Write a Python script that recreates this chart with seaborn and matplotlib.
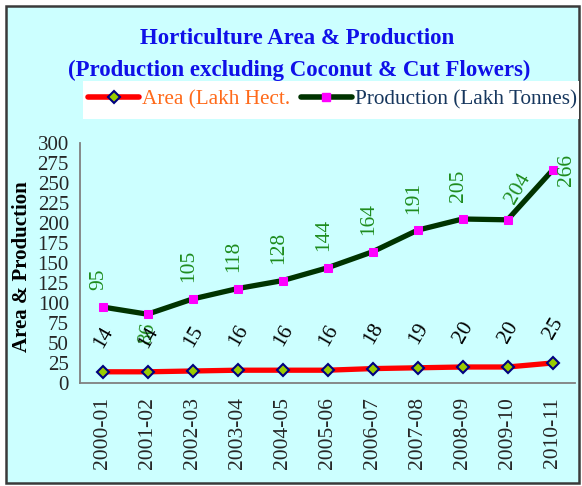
import numpy as np
import pandas as pd
import matplotlib.pyplot as plt
import matplotlib.patches as mpatches
from matplotlib.lines import Line2D
import seaborn as sns

# data
years = ["2000-01", "2001-02", "2002-03", "2003-04", "2004-05", "2005-06",
         "2006-07", "2007-08", "2008-09", "2009-10", "2010-11"]
area = [14, 14, 15, 16, 16, 16, 18, 19, 20, 20, 25]
production = [95, 86, 105, 118, 128, 144, 164, 191, 205, 204, 266]

sns.set_style("white")
plt.rcParams['font.family'] = ['Liberation Serif', 'DejaVu Serif']

bg = "#CCFFFF"
W, H = 582, 486
fig = plt.figure(figsize=(W / 100, H / 100), dpi=100)
fig.patch.set_facecolor("white")

# outer chart frame and the white legend strip
fig.patches.append(mpatches.Rectangle((6 / W, 3 / H), 573 / W, 477 / H, transform=fig.transFigure,
                                      facecolor=bg, edgecolor="#3a3a3a", lw=1.8, zorder=-2))
fig.patches.append(mpatches.Rectangle((83 / W, 1 - 119 / H), 496 / W, 38 / H, transform=fig.transFigure,
                                      facecolor="white", edgecolor="none", zorder=-1))

ax = fig.add_axes([80 / W, 1 - 383 / H, 495 / W, 240 / H])
ax.set_facecolor("none")
ax.set_zorder(2)

df = pd.DataFrame({"idx": np.arange(len(years)), "area": area, "production": production})

sns.lineplot(data=df, x="idx", y="production", ax=ax, color="#003300", lw=3.8,
             marker="s", markersize=5.5, markerfacecolor="#FF00FF", markeredgecolor="#FF00FF")
sns.lineplot(data=df, x="idx", y="area", ax=ax, color="#FF0000", lw=3.8,
             marker="D", markersize=6.5, markerfacecolor="#99CC00", markeredgecolor="#000080",
             markeredgewidth=1.5)

ax.set_xlim(-0.5, len(years) - 0.5)
ax.set_ylim(0, 300)
ax.set_yticks(np.arange(0, 301, 25))
ax.tick_params(axis="y", labelsize=15, length=4, color="#808080", pad=4)

ax.set_xticks(np.arange(-0.5, len(years), 1))
ax.set_xticklabels([])
ax.set_xticks(np.arange(len(years)), minor=True)
ax.set_xticklabels(years, minor=True, rotation=90, fontsize=15.5)
ax.tick_params(axis="x", which="major", length=5, color="#808080")
ax.tick_params(axis="x", which="minor", length=0, pad=10)
ax.set_xlabel("")
ax.set_ylabel("")

sns.despine(ax=ax)
for s in ["left", "bottom"]:
    ax.spines[s].set_color("#808080")
    ax.spines[s].set_linewidth(1.3)

# data labels
green = "#1E8C1E"
for i, v in enumerate(production):
    rot, ha, va, off = 90, "center", "bottom", (-3, 12)
    if i == 1:
        rot, va, off = 80, "top", (0, -5)
    elif i == 9:
        rot, ha, off = 60, "left", (-4, 9)
    elif i == 10:
        ha, va, off = "left", "center", (3, 0)
    ax.annotate(str(v), (i, v), xytext=off, textcoords="offset points",
                rotation=rot, ha=ha, va=va, fontsize=15.5, color=green)

for i, v in enumerate(area):
    ax.annotate(str(v), (i, v), xytext=(1, 25), textcoords="offset points",
                rotation=60, ha="center", va="center", fontsize=15.5, color="black")

# titles
fig.text(0.511, 1 - 38 / H, "Horticulture Area & Production", ha="center", va="center",
         fontsize=16.5, fontweight="bold", color="#1010E8")
fig.text(0.514, 1 - 70 / H, "(Production excluding Coconut & Cut Flowers)", ha="center", va="center",
         fontsize=16.5, fontweight="bold", color="#1010E8")
fig.text(22 / W, 1 - 267 / H, "Area & Production", rotation=90, ha="center", va="center",
         fontsize=15, fontweight="bold", color="black")

# legend
handles = [
    Line2D([], [], color="#FF0000", lw=4, marker="D", markersize=6.5,
           markerfacecolor="#99CC00", markeredgecolor="#000080", markeredgewidth=1.5),
    Line2D([], [], color="#003300", lw=4, marker="s", markersize=5.5,
           markerfacecolor="#FF00FF", markeredgecolor="#FF00FF"),
]
leg = fig.legend(handles, ["Area (Lakh Hect.", "Production (Lakh Tonnes)"],
                 loc="center left", bbox_to_anchor=(88 / W, 1 - 100 / H), ncol=2,
                 frameon=False, fontsize=15.3, handlelength=2.4, handletextpad=0.15,
                 columnspacing=0.5, borderaxespad=0, borderpad=0)
for t, c in zip(leg.get_texts(), ["#FF6A1A", "#17375E"]):
    t.set_color(c)

plt.savefig("out.png", dpi=100)
